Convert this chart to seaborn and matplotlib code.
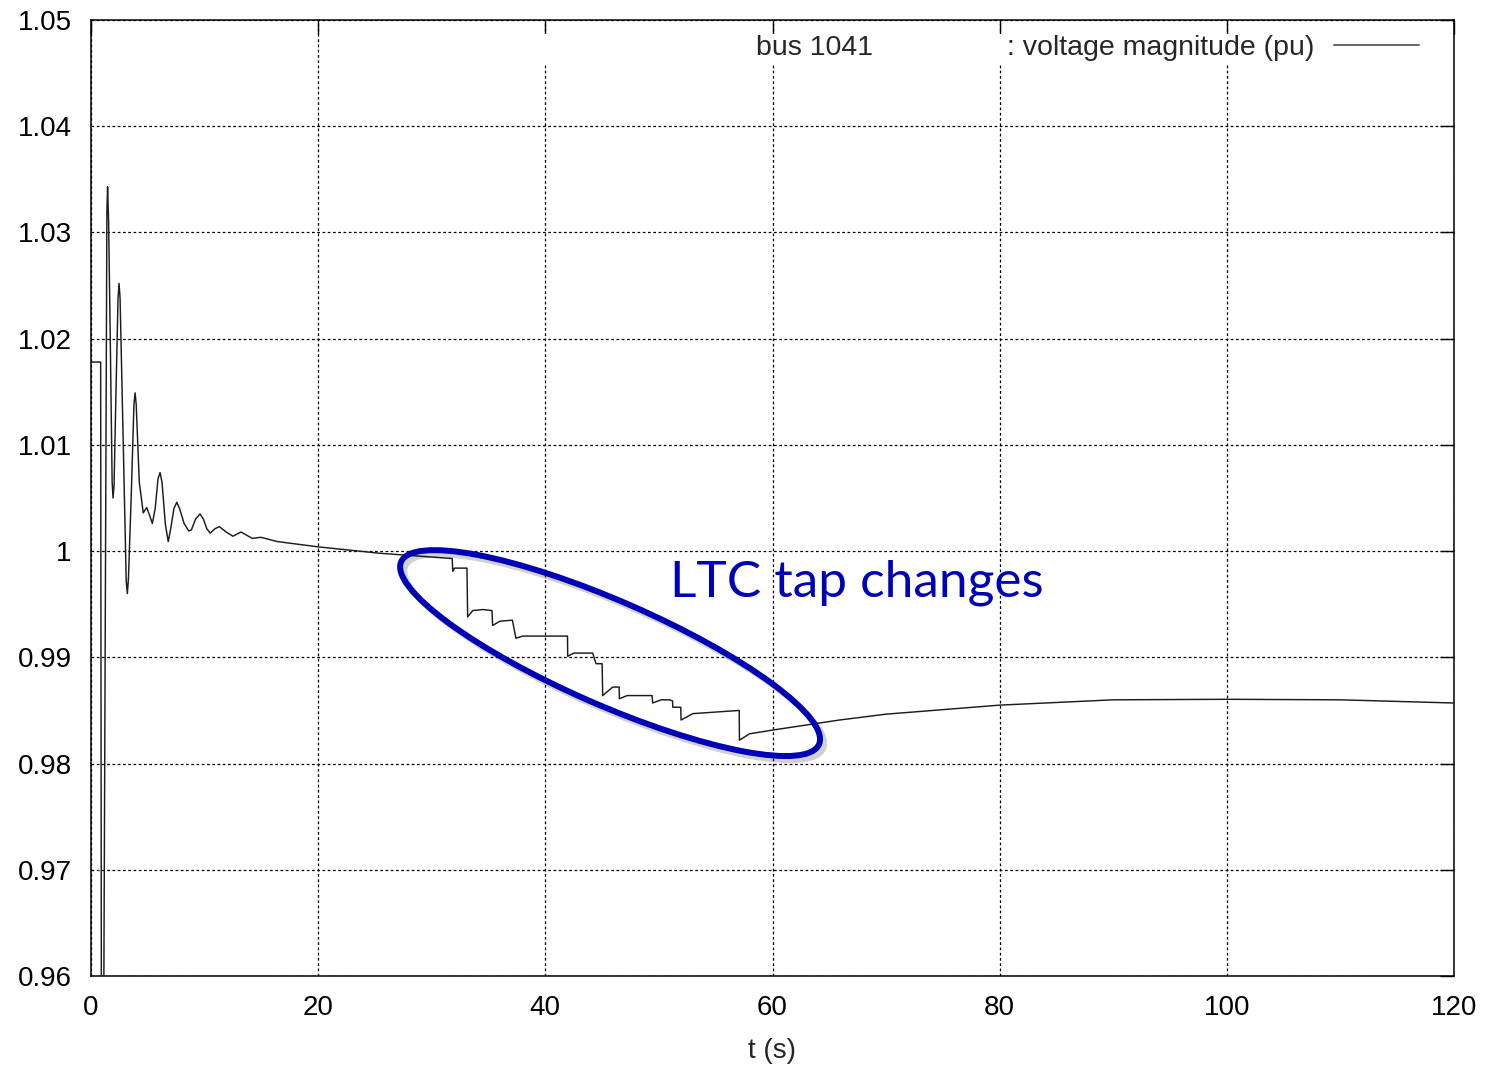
import matplotlib
matplotlib.use("Agg")
import matplotlib.pyplot as plt
import matplotlib.transforms as mtransforms
import matplotlib.patheffects as pe
from matplotlib.patches import Ellipse, Rectangle
import seaborn as sns

# ---------------- data ----------------
t_s = [0.0, 0.85, 0.93, 1.06, 1.40, 1.46, 1.55, 1.70, 1.86, 1.94, 2.03, 2.20, 2.38, 2.47,
       2.56, 2.83, 3.10, 3.20, 3.30, 3.55, 3.78, 3.88, 3.98, 4.25, 4.60, 4.90, 5.15, 5.40,
       5.65, 5.90, 6.08, 6.25, 6.55, 6.80, 7.00, 7.30, 7.55, 7.80, 8.20, 8.60, 8.84, 9.20,
       9.60, 9.90, 10.2, 10.5, 10.9, 11.3, 11.9, 12.5, 13.2, 14.2, 14.95, 16.4, 20.0, 25.4,
       31.80, 31.85, 32.00, 33.10, 33.16, 33.60, 34.50, 35.30, 35.36, 36.00, 37.10, 37.41,
       38.00, 39.76, 41.95, 41.97, 42.50, 44.17, 44.46, 45.00, 45.05, 45.93, 46.50, 46.52,
       47.20, 48.87, 49.40, 49.45, 50.20, 50.93, 51.20, 51.22, 51.92, 51.95, 52.98, 57.07,
       57.09, 57.97, 60.0, 65.9, 70.0, 80.0, 90.0, 100.0, 110.0, 120.0]
v_pu = [1.0178, 1.0178, 0.940, 0.940, 1.0320, 1.0343, 1.0310, 1.0197, 1.0065, 1.0050,
        1.0062, 1.0150, 1.0238, 1.0252, 1.0238, 1.0106, 0.9972, 0.9960, 0.9975, 1.0055,
        1.0138, 1.0149, 1.0138, 1.0065, 1.0036, 1.0041, 1.0034, 1.0026, 1.0040, 1.0068,
        1.0074, 1.0065, 1.0025, 1.0009, 1.0020, 1.0040, 1.0046, 1.0040, 1.0026, 1.0019,
        1.0020, 1.0030, 1.0035, 1.0030, 1.0021, 1.0017, 1.0021, 1.0023, 1.0018, 1.0014,
        1.0018, 1.0012, 1.0013, 1.0009, 1.0004, 0.9998, 0.9993, 0.9981, 0.9984, 0.9984,
        0.9938, 0.9944, 0.9945, 0.9944, 0.9930, 0.9934, 0.9935, 0.9918, 0.9920, 0.9920,
        0.9920, 0.9901, 0.9904, 0.9904, 0.9894, 0.9894, 0.9864, 0.9872, 0.9872, 0.9861,
        0.9864, 0.9864, 0.9864, 0.9857, 0.9860, 0.9860, 0.9859, 0.9853, 0.9853, 0.9841,
        0.9847, 0.9850, 0.9822, 0.9828, 0.98315, 0.9841, 0.98465, 0.9855, 0.9860, 0.98605,
        0.9860, 0.9857]

x_ticks = [0, 20, 40, 60, 80, 100, 120]
x_tick_labels = ["0", "20", "40", "60", "80", "100", "120"]
y_ticks = [0.96, 0.97, 0.98, 0.99, 1.00, 1.01, 1.02, 1.03, 1.04, 1.05]
y_tick_labels = ["0.96", "0.97", "0.98", "0.99", "1", "1.01", "1.02", "1.03", "1.04", "1.05"]

series_label = "bus 1041                 : voltage magnitude (pu)"
x_label = "t (s)"
note_text = "LTC tap changes"

# ---------------- style ----------------
sns.set_style("white")
plt.rcParams["font.family"] = ["Liberation Sans", "DejaVu Sans"]

FS = 20
LFS = 20.5
W, H = 1491, 1069
fig = plt.figure(figsize=(W / 100, H / 100), dpi=100)
ax = fig.add_axes([91 / W, 1 - 976 / H, 1363 / W, 956 / H])

sns.lineplot(x=t_s, y=v_pu, estimator=None, sort=False, color="#1c1c1c",
             linewidth=1.05, ax=ax, label=series_label, zorder=3)

ax.set_xlim(0, 120)
ax.set_ylim(0.96, 1.05)
ax.set_xticks(x_ticks)
ax.set_xticklabels(x_tick_labels)
ax.set_yticks(y_ticks)
ax.set_yticklabels(y_tick_labels)
ax.set_xlabel(x_label, fontsize=FS, labelpad=12)
ax.set_ylabel("")

ax.set_axisbelow(True)
ax.grid(True, color="black", linestyle=(0, (2.2, 2.0)), linewidth=0.9)
for sp in ax.spines.values():
    sp.set_color("black")
    sp.set_linewidth(1.1)
    sp.set_visible(True)
ax.tick_params(direction="in", length=10, width=1.0, top=True, right=True,
               labelsize=FS, pad=14, colors="black")

# white key area (as in gnuplot key box)
ax.add_patch(Rectangle((0.322, 0.953), 0.668, 0.032, transform=ax.transAxes,
                       facecolor="white", edgecolor="none", zorder=1))

fs_px = LFS * 100 / 72
leg = ax.legend(loc="center right", bbox_to_anchor=((1419 - 91) / 1363, (976 - 48) / 956),
                frameon=False, markerfirst=False, fontsize=LFS, borderaxespad=0,
                borderpad=0, handlelength=85 / fs_px, handletextpad=20 / fs_px)
for h in leg.get_lines():
    h.set_color("#666666")
    h.set_linewidth(1.4)

# annotation ellipse (drawn in pixel units anchored at a data point)
blue = "#0000b4"
trans = fig.dpi_scale_trans + mtransforms.ScaledTranslation(45.7, 0.9904, ax.transData)
ell = Ellipse((0, 0), width=4.56, height=1.04, angle=-23.6, transform=trans,
              facecolor="none", edgecolor=blue, linewidth=4.3, zorder=5)
ell.set_path_effects([pe.SimpleLineShadow(offset=(3, -3), shadow_color="black", alpha=0.18),
                      pe.Normal()])
ax.add_patch(ell)

ax.text(50.98, 0.99568, note_text, color=blue, fontsize=37, family=["Lato", "DejaVu Sans"],
        ha="left", va="baseline", zorder=6)

fig.savefig("out.png", dpi=100)
